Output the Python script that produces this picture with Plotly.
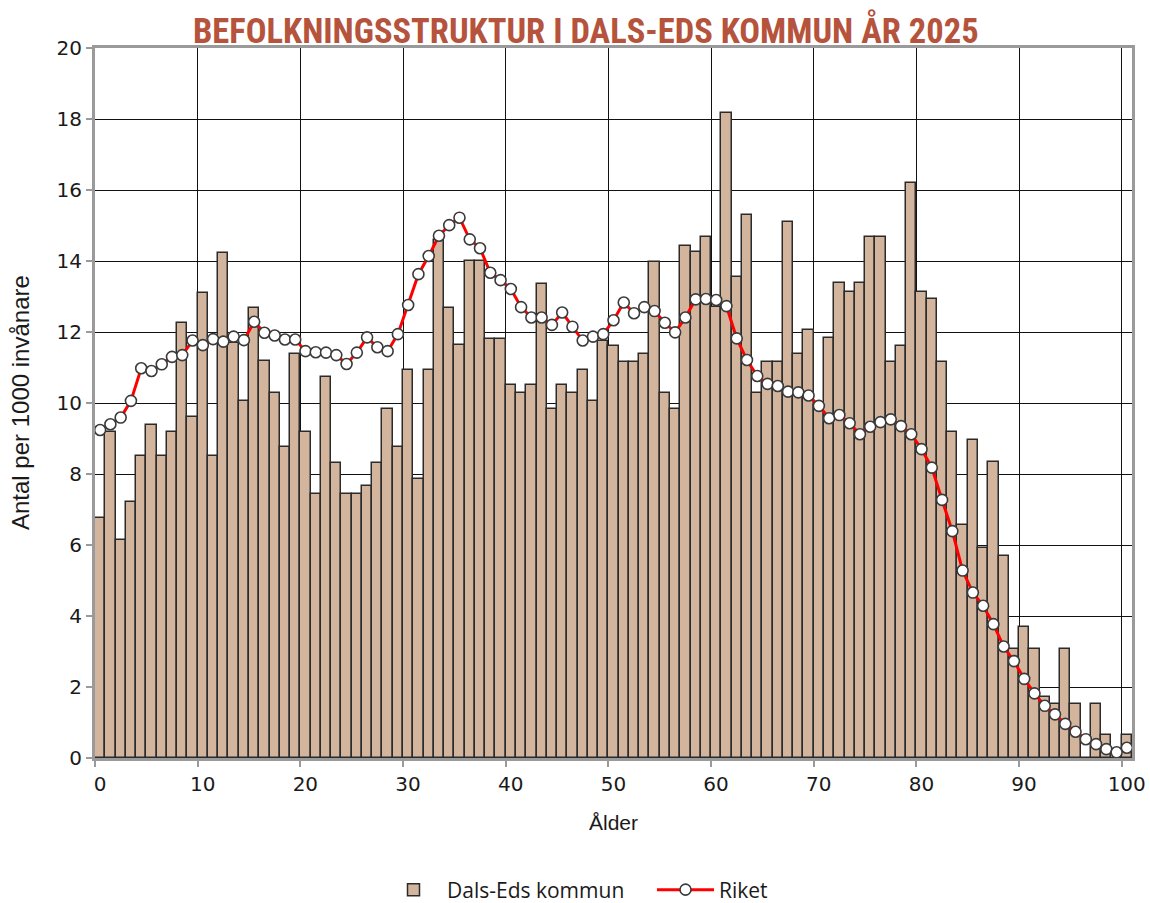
import plotly.graph_objects as go

ages = list(range(0, 101))

dals_eds = [
    6.77, 9.18, 6.14, 7.21, 8.52, 9.39, 8.52, 9.19, 12.24, 9.61,
    13.11, 8.52, 14.23, 11.70, 10.07, 12.69, 11.17, 10.27, 8.75, 11.38,
    9.18, 7.45, 10.73, 8.32, 7.45, 7.45, 7.65, 8.32, 9.83, 8.76,
    10.93, 7.87, 10.93, 14.59, 12.69, 11.62, 14.00, 14.00, 11.80, 11.80,
    10.50, 10.27, 10.50, 13.35, 9.83, 10.50, 10.27, 10.93, 10.07, 11.75,
    11.61, 11.16, 11.16, 11.37, 13.98, 10.27, 9.82, 14.43, 14.24, 14.69,
    12.71, 18.16, 13.56, 15.31, 10.27, 11.16, 11.16, 15.11, 11.37, 12.06,
    9.95, 11.82, 13.37, 13.14, 13.37, 14.69, 14.69, 11.16, 11.61, 16.19,
    13.12, 12.93, 11.16, 9.19, 6.56, 8.96, 5.91, 8.33, 5.70, 3.07,
    3.70, 3.07, 1.73, 1.52, 3.07, 1.52, 0.00, 1.52, 0.65, 0.00,
    0.65,
]

riket = [
    9.24, 9.40, 9.59, 10.06, 10.98, 10.90, 11.09, 11.30, 11.35, 11.76,
    11.63, 11.80, 11.73, 11.87, 11.77, 12.29, 11.98, 11.90, 11.79, 11.79,
    11.46, 11.43, 11.42, 11.35, 11.10, 11.42, 11.85, 11.57, 11.46, 11.94,
    12.76, 13.63, 14.14, 14.71, 15.01, 15.22, 14.61, 14.36, 13.67, 13.46,
    13.21, 12.70, 12.41, 12.41, 12.20, 12.55, 12.15, 11.76, 11.87, 11.94,
    12.33, 12.83, 12.53, 12.70, 12.59, 12.26, 11.99, 12.41, 12.92, 12.93,
    12.90, 12.73, 11.82, 11.21, 10.76, 10.54, 10.48, 10.32, 10.30, 10.21,
    9.92, 9.57, 9.66, 9.43, 9.12, 9.33, 9.46, 9.54, 9.35, 9.12,
    8.70, 8.18, 7.27, 6.39, 5.28, 4.66, 4.29, 3.77, 3.14, 2.73,
    2.23, 1.82, 1.47, 1.23, 0.96, 0.74, 0.53, 0.39, 0.25, 0.16,
    0.29,
]

x_tick_labels = ["0", "10", "20", "30", "40", "50", "60", "70", "80", "90", "100"]
x_tick_pos = [-0.5 + 10 * i for i in range(len(x_tick_labels))]

title_text = "BEFOLKNINGSSTRUKTUR I DALS-EDS KOMMUN ÅR 2025"

fig = go.Figure()
fig.add_trace(go.Bar(
    x=ages, y=dals_eds, name="Dals-Eds kommun", width=1.0,
    marker=dict(color="#D2B59C", line=dict(color="#2b2b2b", width=1.5)),
))
fig.add_trace(go.Scatter(
    x=ages, y=riket, name="Riket", mode="lines+markers",
    line=dict(color="#FF0000", width=3),
    marker=dict(symbol="circle", size=11, color="white",
                line=dict(color="#3a3a3a", width=1.6)),
))

tick_font = dict(family="DejaVu Sans", size=20, color="#1a1a1a")
fig.update_layout(
    width=1150, height=903,
    margin=dict(l=95, r=18, t=48, b=145, autoexpand=False),
    paper_bgcolor="white", plot_bgcolor="white",
    bargap=0,
    showlegend=True,
    legend=dict(orientation="h", xref="container", yref="container",
                x=652 / 1150, xanchor="center", y=1 - 890 / 903, yanchor="middle",
                font=dict(family="Open Sans", size=21, color="#1a1a1a"),
                itemwidth=57, entrywidth=200, entrywidthmode="pixels",
                traceorder="normal"),
    xaxis=dict(range=[-0.5, 100.5], tickmode="array", tickvals=x_tick_pos,
               ticktext=x_tick_labels, ticklabelshift=5, ticklabeloverflow="allow",
               automargin=False,
               showgrid=True, gridcolor="#111111", gridwidth=1.4,
               ticks="outside", ticklen=6, tickcolor="#9a9a9a", tickwidth=2,
               showline=True, linecolor="#9a9a9a", linewidth=3, mirror=True,
               zeroline=False, tickfont=tick_font),
    yaxis=dict(range=[0, 20], dtick=2, tick0=0, automargin=False,
               showgrid=True, gridcolor="#111111", gridwidth=1.4,
               ticks="outside", ticklen=6, tickcolor="#9a9a9a", tickwidth=2,
               showline=True, linecolor="#9a9a9a", linewidth=3, mirror=True,
               zeroline=False, tickfont=tick_font),
    annotations=[
        dict(text=title_text, xref="paper", yref="paper",
             x=(586 - 95) / 1037, y=1.0, yshift=18, xanchor="center", yanchor="middle",
             showarrow=False,
             font=dict(family="Roboto Condensed, Liberation Sans Narrow, Liberation Sans",
                       size=34.5, color="#B5533C", weight="bold")),
        dict(text="Antal per 1000 invånare", xref="paper", yref="paper",
             x=0, xshift=-75, y=0.5, textangle=-90, xanchor="center", yanchor="middle",
             showarrow=False,
             font=dict(family="Liberation Sans", size=24, color="#1a1a1a")),
        dict(text="Ålder", xref="paper", yref="paper",
             x=0.5, y=0, yshift=-64, xanchor="center", yanchor="middle",
             showarrow=False,
             font=dict(family="Liberation Sans", size=21, color="#1a1a1a")),
    ],
)

fig.write_html(
    "out.html",
    config={"displayModeBar": False},
    post_script="document.body.style.margin='0';document.body.style.overflow='hidden';",
)
